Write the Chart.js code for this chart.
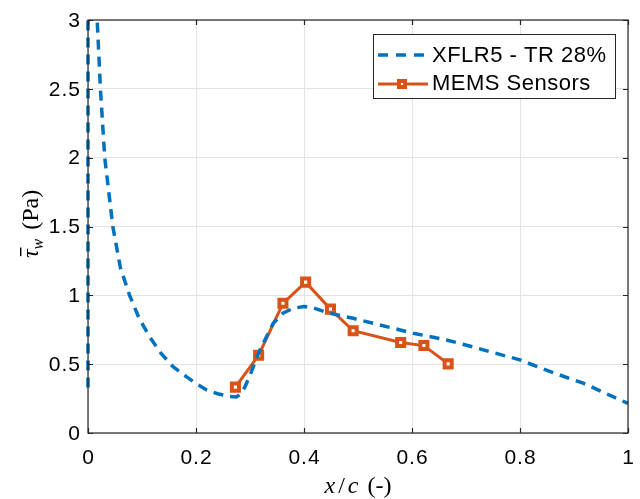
<!DOCTYPE html>
<html>
<head>
<meta charset="utf-8">
<script src="https://cdn.jsdelivr.net/npm/chart.js@4/dist/chart.umd.min.js"></script>
<style>
html,body{margin:0;padding:0;background:#fff;}
#wrap{width:640px;height:499px;position:relative;}
</style>
</head>
<body>
<div id="wrap"><canvas id="c" width="640" height="499"></canvas></div>
<script>
// ---- Data ----
const xflrX = [0, 0, 0.013, 0.017, 0.023, 0.031, 0.046, 0.06, 0.077, 0.095, 0.114, 0.135, 0.157, 0.182, 0.2, 0.219, 0.24, 0.262, 0.275, 0.281, 0.29, 0.299, 0.318, 0.343, 0.361, 0.38, 0.4, 0.411, 0.447, 0.491, 0.54, 0.602, 0.664, 0.71, 0.732, 0.8, 0.855, 0.917, 0.985, 1.0];
const xflrY = [0.33, 4.0, 3.5, 3.0, 2.5, 2.0, 1.5, 1.2, 1.0, 0.83, 0.70, 0.58, 0.483, 0.41, 0.36, 0.314, 0.285, 0.265, 0.262, 0.278, 0.33, 0.41, 0.60, 0.797, 0.87, 0.906, 0.918, 0.917, 0.87, 0.833, 0.785, 0.725, 0.676, 0.628, 0.604, 0.531, 0.447, 0.362, 0.241, 0.215];
const memsX = [0.273, 0.316, 0.361, 0.403, 0.449, 0.491, 0.579, 0.622, 0.667];
const memsY = [0.333, 0.565, 0.942, 1.096, 0.90, 0.743, 0.657, 0.635, 0.502];
const xTicks = [0, 0.2, 0.4, 0.6, 0.8, 1];
const xTickLabels = ['0', '0.2', '0.4', '0.6', '0.8', '1'];
const yTicks = [0, 0.5, 1, 1.5, 2, 2.5, 3];
const yTickLabels = ['0', '0.5', '1', '1.5', '2', '2.5', '3'];
const seriesNames = ['XFLR5 - TR 28%', 'MEMS Sensors'];

const BLUE = '#0072BD', ORANGE = '#D95319', AX = '#262626';
const SANS = '"Liberation Sans", Arial, sans-serif';
const SERIF = '"Liberation Serif", "DejaVu Serif", serif';

const toPts = (xs, ys) => xs.map((x, i) => ({x: x, y: ys[i]}));

function drawParts(ctx, parts, x0, y, gap) {
  parts.forEach(p => {
    ctx.font = p.f;
    ctx.fillText(p.t, x0, y + (p.dy || 0));
    x0 += ctx.measureText(p.t).width + (p.g !== undefined ? p.g : gap);
  });
}
function partsWidth(ctx, parts, gap) {
  let w = 0;
  parts.forEach((p, i) => {
    ctx.font = p.f; w += ctx.measureText(p.t).width;
    if (i < parts.length - 1) w += (p.g !== undefined ? p.g : gap);
  });
  return w;
}

const framePlugin = {
  id: 'frame',
  afterDraw(chart) {
    const ctx = chart.ctx, a = chart.chartArea;
    const xs = chart.scales.x, ys = chart.scales.y;
    ctx.save();
    // box
    ctx.strokeStyle = AX; ctx.lineWidth = 1.2;
    ctx.strokeRect(a.left, a.top, a.right - a.left, a.bottom - a.top);
    // inward ticks
    const tl = 5;
    ctx.beginPath();
    xTicks.forEach(v => {
      const p = Math.round(xs.getPixelForValue(v)) + 0.5;
      ctx.moveTo(p, a.bottom); ctx.lineTo(p, a.bottom - tl);
      ctx.moveTo(p, a.top); ctx.lineTo(p, a.top + tl);
    });
    yTicks.forEach(v => {
      const p = Math.round(ys.getPixelForValue(v)) + 0.5;
      ctx.moveTo(a.left, p); ctx.lineTo(a.left + tl, p);
      ctx.moveTo(a.right, p); ctx.lineTo(a.right - tl, p);
    });
    ctx.stroke();

    // tick labels
    ctx.fillStyle = '#000';
    ctx.font = '21px ' + SANS;
    ctx.letterSpacing = '1px';
    ctx.textBaseline = 'middle';
    ctx.textAlign = 'center';
    xTicks.forEach((v, i) => {
      ctx.fillText(xTickLabels[i], xs.getPixelForValue(v) + 0.5, a.bottom + 25);
    });
    ctx.textAlign = 'right';
    yTicks.forEach((v, i) => {
      ctx.fillText(yTickLabels[i], a.left - 7, ys.getPixelForValue(v) + 1);
    });
    ctx.letterSpacing = '0px';
    ctx.textAlign = 'left';

    // x-axis title: x/c (-)
    ctx.textBaseline = 'alphabetic';
    const xParts = [
      {t: 'x', f: 'italic 24px ' + SERIF},
      {t: '/', f: '24px ' + SERIF},
      {t: 'c', f: 'italic 24px ' + SERIF},
      {t: ' (-)', f: '24px ' + SERIF}
    ];
    const gx = 3;
    const wx = partsWidth(ctx, xParts, gx);
    drawParts(ctx, xParts, (a.left + a.right) / 2 - wx / 2, 493, gx);

    // y-axis title: tau-bar_w (Pa)
    ctx.save();
    ctx.translate(38, 224);
    ctx.rotate(-Math.PI / 2);
    ctx.font = 'italic 24px ' + SERIF;
    const wt = ctx.measureText('τ').width;
    const yParts = [
      {t: 'τ', f: 'italic 24px ' + SERIF, g: 0},
      {t: 'w', f: 'italic 16px ' + SERIF, dy: 5, g: 3},
      {t: ' (Pa)', f: '24px ' + SERIF}
    ];
    const wy = partsWidth(ctx, yParts, 0);
    const s = -wy / 2;
    drawParts(ctx, yParts, s, 0, 0);
    ctx.fillRect(s + 2, -18, wt, 1.4);
    ctx.restore();

    // legend
    const lx = 373, ly = 34, lw = 242, lh = 64;
    ctx.fillStyle = '#fff';
    ctx.fillRect(lx, ly, lw, lh);
    ctx.strokeStyle = AX; ctx.lineWidth = 1;
    ctx.strokeRect(lx + 0.5, ly + 0.5, lw, lh);
    // blue dashed
    ctx.strokeStyle = BLUE; ctx.lineWidth = 3.5;
    ctx.setLineDash([10, 8]);
    ctx.beginPath(); ctx.moveTo(378, 55); ctx.lineTo(430, 55); ctx.stroke();
    ctx.setLineDash([]);
    // orange line + marker
    ctx.strokeStyle = ORANGE; ctx.lineWidth = 3;
    ctx.beginPath(); ctx.moveTo(378, 84); ctx.lineTo(428, 84); ctx.stroke();
    ctx.fillStyle = ORANGE;
    ctx.fillRect(397, 79, 10, 10);
    ctx.fillStyle = '#fff';
    ctx.fillRect(401, 83, 2, 2);
    ctx.fillStyle = '#000';
    ctx.font = '22px ' + SANS;
    ctx.letterSpacing = '0.5px';
    ctx.textBaseline = 'middle';
    ctx.fillText(seriesNames[0], 432, 56);
    ctx.fillText(seriesNames[1], 432, 84);
    ctx.letterSpacing = '0px';
    ctx.restore();
  }
};

new Chart(document.getElementById('c'), {
  type: 'scatter',
  data: {
    datasets: [
      {
        label: seriesNames[0],
        data: toPts(xflrX, xflrY),
        showLine: true,
        borderColor: BLUE,
        borderWidth: 3.5,
        borderDash: [10, 7],
        pointRadius: 0,
        tension: 0,
        fill: false,
        clip: {left: 4, top: 0, right: 4, bottom: 4}
      },
      {
        label: seriesNames[1],
        data: toPts(memsX, memsY),
        showLine: true,
        borderColor: ORANGE,
        borderWidth: 3,
        pointStyle: 'rect',
        pointRadius: 5,
        pointBackgroundColor: '#fff',
        pointBorderColor: ORANGE,
        pointBorderWidth: 4,
        tension: 0,
        fill: false,
        clip: 0
      }
    ]
  },
  options: {
    responsive: false,
    animation: false,
    devicePixelRatio: 1,
    layout: {padding: {left: 88, right: 12, top: 20, bottom: 66}},
    plugins: {legend: {display: false}, tooltip: {enabled: false}},
    scales: {
      x: {
        type: 'linear', min: 0, max: 1,
        afterFit: s => { s.height = 0; s.paddingLeft = 0; s.paddingRight = 0; },
        afterBuildTicks: s => { s.ticks = xTicks.map(v => ({value: v})); },
        ticks: {display: false},
        grid: {color: '#e3e3e3', lineWidth: 1, drawTicks: false},
        border: {display: false}
      },
      y: {
        type: 'linear', min: 0, max: 3,
        afterFit: s => { s.width = 0; s.paddingTop = 0; s.paddingBottom = 0; },
        afterBuildTicks: s => { s.ticks = yTicks.map(v => ({value: v})); },
        ticks: {display: false},
        grid: {color: '#e3e3e3', lineWidth: 1, drawTicks: false},
        border: {display: false}
      }
    }
  },
  plugins: [framePlugin]
});
</script>
</body>
</html>
